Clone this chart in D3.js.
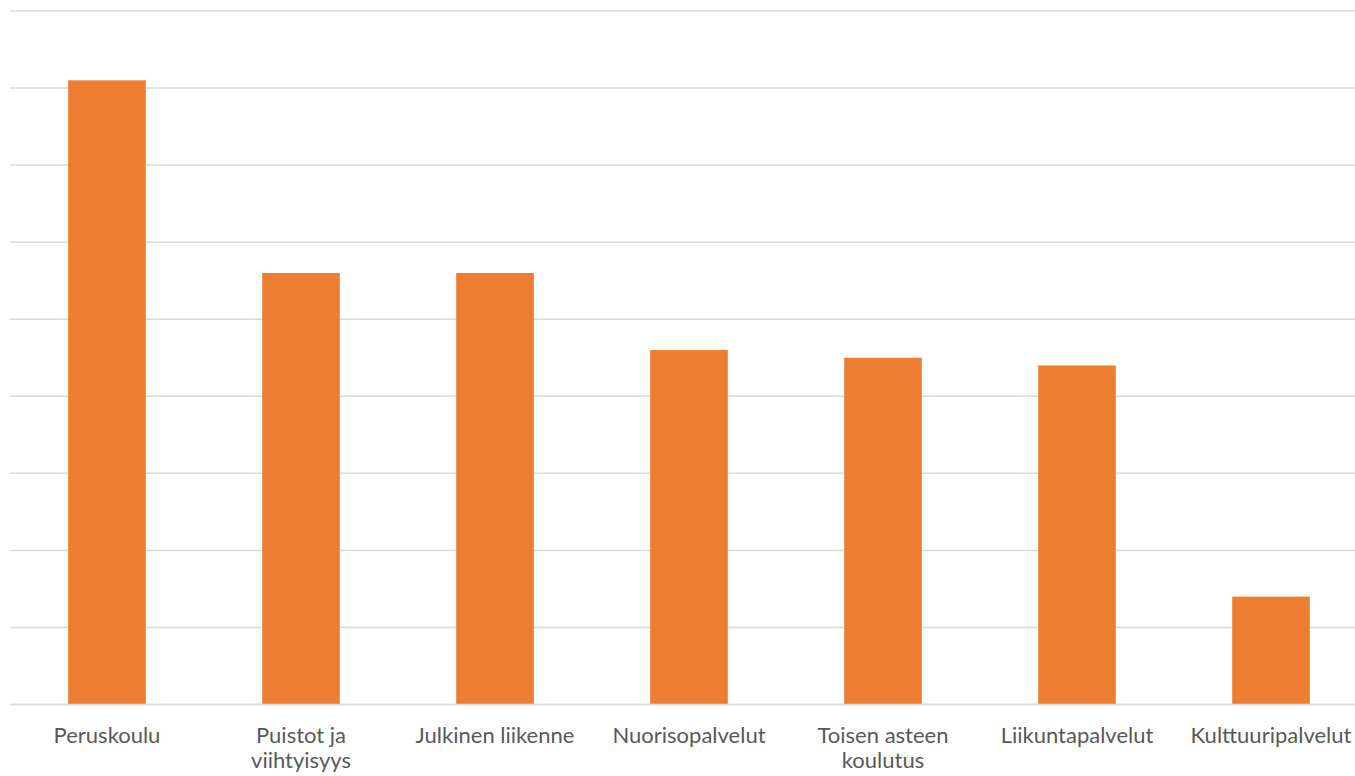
<!DOCTYPE html>
<html>
<head>
<meta charset="utf-8">
<script src="https://cdn.jsdelivr.net/npm/d3@7"></script>
<style>
    body { margin: 0; background: #fff; }
    svg { display: block; }
    .cat-label { font-family: Lato, "Open Sans", sans-serif; font-size: 22px; fill: #595959; }
</style>
</head>
<body>
<div id="chart"></div>
<script>
// Categories (label lines) and values
const categories = ['Peruskoulu', 'Puistot ja viihtyisyys', 'Julkinen liikenne', 'Nuorisopalvelut',
    'Toisen asteen koulutus', 'Liikuntapalvelut', 'Kulttuuripalvelut'];
const labelLines = [['Peruskoulu'], ['Puistot ja', 'viihtyisyys'], ['Julkinen liikenne'], ['Nuorisopalvelut'],
    ['Toisen asteen', 'koulutus'], ['Liikuntapalvelut'], ['Kulttuuripalvelut']];
const values = [8.1, 5.6, 5.6, 4.6, 4.5, 4.4, 1.4];
const gridTicks = [0, 1, 2, 3, 4, 5, 6, 7, 8, 9];

const width = 1355, height = 776;
const plot = { left: 10, right: 1368, top: 11, bottom: 704.5 };

const svg = d3.select('#chart')
    .append('svg')
    .attr('width', width)
    .attr('height', height);

const x = d3.scaleBand()
    .domain(categories)
    .range([plot.left, plot.right])
    .paddingInner(0.6)
    .paddingOuter(0.3);

const y = d3.scaleLinear()
    .domain([0, 9])
    .range([plot.bottom, plot.top]);

// Gridlines
svg.append('g')
    .selectAll('line')
    .data(gridTicks)
    .join('line')
    .attr('x1', plot.left)
    .attr('x2', width)
    .attr('y1', d => y(d))
    .attr('y2', d => y(d))
    .attr('stroke', '#d9d9d9')
    .attr('stroke-width', 1.5);

// Bars
svg.append('g')
    .selectAll('rect')
    .data(values)
    .join('rect')
    .attr('x', (d, i) => x(categories[i]))
    .attr('width', x.bandwidth())
    .attr('y', d => y(d))
    .attr('height', d => y(0) - y(d))
    .attr('fill', '#ed7d31');

// Redraw baseline over bars
svg.append('line')
    .attr('x1', plot.left)
    .attr('x2', width)
    .attr('y1', y(0))
    .attr('y2', y(0))
    .attr('stroke', '#d9d9d9')
    .attr('stroke-width', 1.5);

// Category labels
const labels = svg.append('g')
    .selectAll('text')
    .data(categories)
    .join('text')
    .attr('class', 'cat-label')
    .attr('text-anchor', 'middle')
    .attr('x', d => x(d) + x.bandwidth() / 2)
    .attr('y', 743);

labels.each(function(d, i) {
    d3.select(this).selectAll('tspan')
        .data(labelLines[i])
        .join('tspan')
        .attr('x', x(d) + x.bandwidth() / 2)
        .attr('dy', (t, j) => j === 0 ? 0 : 25)
        .text(t => t);
});
</script>
</body>
</html>
